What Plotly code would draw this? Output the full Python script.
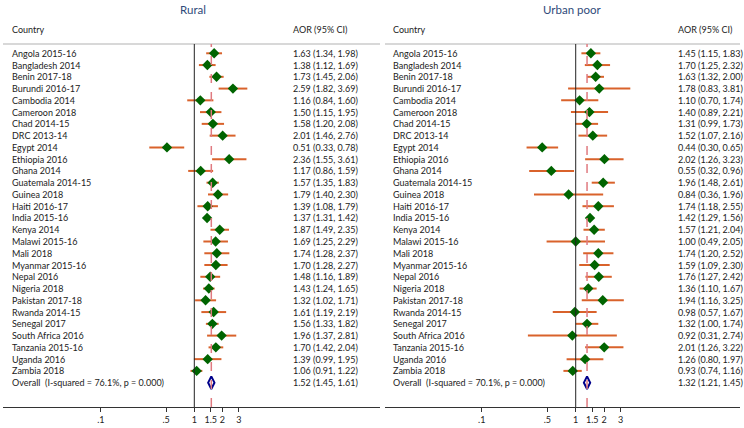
"""Forest plots of AOR by country: rural vs urban poor."""

import plotly.graph_objects as go

countries = [
    "Angola 2015-16", "Bangladesh 2014", "Benin 2017-18", "Burundi 2016-17",
    "Cambodia 2014", "Cameroon 2018", "Chad 2014-15", "DRC 2013-14",
    "Egypt 2014", "Ethiopia 2016", "Ghana 2014", "Guatemala 2014-15",
    "Guinea 2018", "Haiti 2016-17", "India 2015-16", "Kenya 2014",
    "Malawi 2015-16", "Mali 2018", "Myanmar 2015-16", "Nepal 2016",
    "Nigeria 2018", "Pakistan 2017-18", "Rwanda 2014-15", "Senegal 2017",
    "South Africa 2016", "Tanzania 2015-16", "Uganda 2016", "Zambia 2018",
]

rural_aor = [1.63, 1.38, 1.73, 2.59, 1.16, 1.50, 1.58, 2.01, 0.51, 2.36, 1.17, 1.57, 1.79, 1.39,
             1.37, 1.87, 1.69, 1.74, 1.70, 1.48, 1.43, 1.32, 1.61, 1.56, 1.96, 1.70, 1.39, 1.06]
rural_lo = [1.34, 1.12, 1.45, 1.82, 0.84, 1.15, 1.20, 1.46, 0.33, 1.55, 0.86, 1.35, 1.40, 1.08,
            1.31, 1.49, 1.25, 1.28, 1.28, 1.16, 1.24, 1.02, 1.19, 1.33, 1.37, 1.42, 0.99, 0.91]
rural_hi = [1.98, 1.69, 2.06, 3.69, 1.60, 1.95, 2.08, 2.76, 0.78, 3.61, 1.59, 1.83, 2.30, 1.79,
            1.42, 2.35, 2.29, 2.37, 2.27, 1.89, 1.65, 1.71, 2.19, 1.82, 2.81, 2.04, 1.95, 1.22]
rural_overall = [1.52, 1.45, 1.61]
rural_i2 = "Overall  (I-squared = 76.1%, p = 0.000)"

urban_aor = [1.45, 1.70, 1.63, 1.78, 1.10, 1.40, 1.31, 1.52, 0.44, 2.02, 0.55, 1.96, 0.84, 1.74,
             1.42, 1.57, 1.00, 1.74, 1.59, 1.76, 1.36, 1.94, 0.98, 1.32, 0.92, 2.01, 1.26, 0.93]
urban_lo = [1.15, 1.25, 1.32, 0.83, 0.70, 0.89, 0.99, 1.07, 0.30, 1.26, 0.32, 1.48, 0.36, 1.18,
            1.29, 1.21, 0.49, 1.20, 1.09, 1.27, 1.10, 1.16, 0.57, 1.00, 0.31, 1.26, 0.80, 0.74]
urban_hi = [1.83, 2.32, 2.00, 3.81, 1.74, 2.21, 1.73, 2.16, 0.65, 3.23, 0.96, 2.61, 1.96, 2.55,
            1.56, 2.04, 2.05, 2.52, 2.30, 2.42, 1.67, 3.25, 1.67, 1.74, 2.74, 3.22, 1.97, 1.16]
urban_overall = [1.32, 1.21, 1.45]
urban_i2 = "Overall  (I-squared = 70.1%, p = 0.000)"

tick_vals = [0.1, 0.5, 1, 1.5, 2, 3]
tick_text = [".1", ".5", "1", "1.5", "2", "3"]

FONT = "Lato"
CI_COLOR = "#d9622b"
PT_COLOR = "#006400"
REF_COLOR = "#e07a80"
TXT = "#222222"

fig = go.Figure()

panels = [
    ("x", "y", "Rural", rural_aor, rural_lo, rural_hi, rural_overall, rural_i2,
     [3 / 744, 380 / 744], [-2.046, 1.986], 0.019, 0.764, 0.503),
    ("x2", "y2", "Urban poor", urban_aor, urban_lo, urban_hi, urban_overall, urban_i2,
     [385 / 744, 740 / 744], [-2.029, 1.748], 0.017, 0.82, 0.528),
]

annotations = []
shapes = []
n = len(countries)

for xa, ya, title, aor, lo, hi, overall, i2, dom, rng, name_x, aor_x, title_x in panels:
    rows = list(range(n))
    # CI whiskers
    cx, cy = [], []
    for i in rows:
        cx += [lo[i], hi[i], None]
        cy += [i, i, None]
    fig.add_trace(go.Scatter(x=cx, y=cy, mode="lines", line=dict(color=CI_COLOR, width=2),
                             xaxis=xa, yaxis=ya, hoverinfo="skip", showlegend=False))
    fig.add_trace(go.Scatter(x=aor, y=rows, mode="markers",
                             marker=dict(symbol="diamond", size=8, color=PT_COLOR),
                             xaxis=xa, yaxis=ya, showlegend=False))
    fig.add_trace(go.Scatter(x=[overall[0]], y=[n], mode="markers",
                             marker=dict(symbol="diamond-tall-open", size=9, color="#00008b",
                                         line=dict(width=2)),
                             xaxis=xa, yaxis=ya, showlegend=False))

    dref = xa + " domain"
    for i in rows:
        annotations.append(dict(x=name_x, y=i, xref=dref, yref=ya, text=countries[i],
                                showarrow=False, xanchor="left", yanchor="middle"))
        annotations.append(dict(x=aor_x, y=i, xref=dref, yref=ya,
                                text=f"{aor[i]:.2f} ({lo[i]:.2f}, {hi[i]:.2f})",
                                showarrow=False, xanchor="left", yanchor="middle"))
    annotations.append(dict(x=name_x, y=n, xref=dref, yref=ya, text=i2,
                            showarrow=False, xanchor="left", yanchor="middle"))
    annotations.append(dict(x=aor_x, y=n, xref=dref, yref=ya,
                            text=f"{overall[0]:.2f} ({overall[1]:.2f}, {overall[2]:.2f})",
                            showarrow=False, xanchor="left", yanchor="middle"))
    annotations.append(dict(x=name_x, y=1.039, xref=dref, yref="paper", text="Country",
                            showarrow=False, xanchor="left", yanchor="middle"))
    annotations.append(dict(x=aor_x, y=1.039, xref=dref, yref="paper", text="AOR (95% CI)",
                            showarrow=False, xanchor="left", yanchor="middle"))
    annotations.append(dict(x=title_x, y=1.096, xref=dref, yref="paper", text=title,
                            showarrow=False, xanchor="center", yanchor="middle",
                            font=dict(size=11.5, color="#2f4a7a")))

    shapes.append(dict(type="line", xref=dref, yref="paper", x0=0, x1=1, y0=1, y1=1,
                       line=dict(color="#d8d8d8", width=2)))
    shapes.append(dict(type="line", xref=xa, yref="paper", x0=1, x1=1, y0=0, y1=1,
                       line=dict(color="#222222", width=1)))
    shapes.append(dict(type="line", xref=xa, yref="paper", x0=overall[0], x1=overall[0],
                       y0=0, y1=1, line=dict(color=REF_COLOR, width=1.5, dash="dash")))

xaxis_common = dict(type="log", showgrid=False, zeroline=False, showline=True,
                    linecolor="#333333", linewidth=1, ticks="outside", ticklen=4,
                    tickcolor="#333333", tickvals=tick_vals, ticktext=tick_text,
                    tickfont=dict(size=9, color=TXT))
yaxis_common = dict(range=[30.07, -0.79], visible=False, showgrid=False, zeroline=False)

fig.update_layout(
    width=744, height=428,
    margin=dict(l=0, r=0, t=44, b=21),
    paper_bgcolor="white", plot_bgcolor="white",
    font=dict(family=FONT, size=9, color=TXT),
    xaxis=dict(domain=panels[0][8], range=panels[0][9], anchor="y", **xaxis_common),
    xaxis2=dict(domain=panels[1][8], range=panels[1][9], anchor="y2", **xaxis_common),
    yaxis=dict(anchor="x", **yaxis_common),
    yaxis2=dict(anchor="x2", **yaxis_common),
    annotations=annotations,
    shapes=shapes,
)

fig.write_html(
    "out.html",
    config={"displayModeBar": False},
    post_script="document.body.style.margin='0px';document.body.style.overflow='hidden';",
)
